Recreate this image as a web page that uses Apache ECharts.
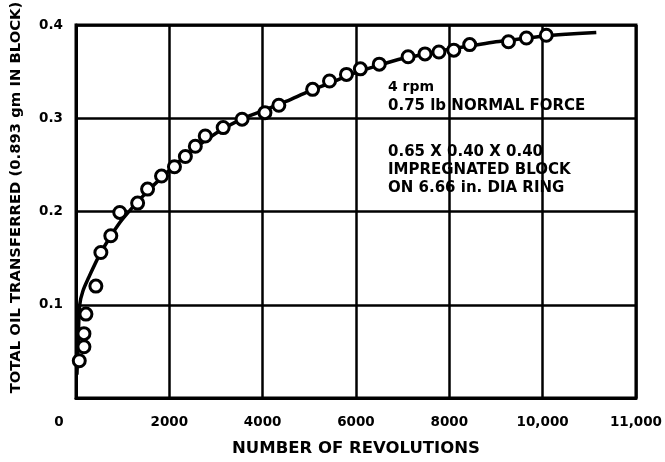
<!DOCTYPE html>
<html>
<head>
<meta charset="utf-8">
<script src="https://cdn.jsdelivr.net/npm/echarts@6/dist/echarts.min.js"></script>
<style>
html,body{margin:0;padding:0;background:#fff;}
#chart{width:665px;height:462px;}
</style>
</head>
<body>
<div id="chart"></div>
<script>
// Measured circles (revolutions, oil transferred)
var pointRevolutions = [70, 170, 170, 213, 426, 533, 746, 938, 1321, 1534, 1833, 2110, 2344, 2557, 2770, 3154, 3559, 4049, 4347, 5071, 5433, 5796, 6094, 6499, 7117, 7479, 7777, 8096, 8437, 9268, 9652, 10078];
var pointOil = [0.040, 0.055, 0.069, 0.090, 0.120, 0.156, 0.174, 0.199, 0.209, 0.224, 0.238, 0.248, 0.259, 0.270, 0.281, 0.290, 0.299, 0.306, 0.314, 0.331, 0.340, 0.347, 0.353, 0.358, 0.366, 0.369, 0.371, 0.373, 0.379, 0.382, 0.386, 0.389];
// Fitted curve
var curveRevolutions = [20, 50, 80, 150, 280, 500, 750, 1000, 1500, 2000, 2500, 3000, 3500, 4000, 4500, 5000, 5500, 6000, 6500, 7000, 7500, 8000, 8500, 9000, 9500, 10000, 10500, 11150];
var curveOil = [0.025, 0.065, 0.100, 0.115, 0.130, 0.153, 0.174, 0.192, 0.220, 0.244, 0.266, 0.284, 0.298, 0.308, 0.318, 0.329, 0.339, 0.349, 0.357, 0.364, 0.369, 0.374, 0.378, 0.382, 0.385, 0.388, 0.390, 0.392];
var xTickLabels = ['0', '2000', '4000', '6000', '8000', '10,000', '11,000'];
var yTickLabels = ['', '0.1', '0.2', '0.3', '0.4'];
var noteLines = ['4 rpm', '0.75 lb NORMAL FORCE', '0.65 X 0.40 X 0.40', 'IMPREGNATED BLOCK', 'ON 6.66 in. DIA RING'];
var xTitle = 'NUMBER OF REVOLUTIONS';
var yTitle = 'TOTAL OIL TRANSFERRED (0.893 gm IN BLOCK)';

var FONT = '"DejaVu Sans", Arial, sans-serif';
var chart = echarts.init(document.getElementById('chart'), null, {renderer: 'canvas'});

function zip(a, b) { return a.map(function (v, i) { return [v, b[i]]; }); }

var noteY = [87, 106, 152, 170, 188];
var graphics = noteLines.map(function (t, i) {
  return {
    type: 'text', x: 388, y: noteY[i], silent: true,
    style: {text: t, fill: '#000', fontFamily: FONT, fontWeight: 'bold', fontSize: i === 0 ? 14 : 15, verticalAlign: 'middle', align: 'left'}
  };
});

chart.setOption({
  animation: false,
  backgroundColor: '#fff',
  grid: {left: 76, right: 25, top: 25, bottom: 54, show: true, borderColor: '#000', borderWidth: 3, backgroundColor: 'transparent'},
  xAxis: {
    type: 'value', min: 0, max: 12000, interval: 2000,
    name: xTitle, nameLocation: 'middle', nameGap: 42,
    nameTextStyle: {fontFamily: FONT, fontWeight: 'bold', fontSize: 16.5, color: '#000'},
    axisLine: {lineStyle: {color: '#000', width: 3}},
    axisTick: {show: false},
    splitLine: {show: true, lineStyle: {color: '#000', width: 2.5}},
    axisLabel: {
      color: '#000', fontFamily: FONT, fontWeight: 'bold', fontSize: 13.5, margin: 17,
      formatter: function (v) { var i = Math.round(v / 2000); return i === 0 ? '{z|' + xTickLabels[0] + '}' : xTickLabels[i]; },
      rich: {z: {fontFamily: FONT, fontWeight: 'bold', fontSize: 13.5, color: '#000', padding: [0, 34, 0, 0]}}
    }
  },
  yAxis: {
    type: 'value', min: 0, max: 0.4, interval: 0.1,
    name: yTitle, nameLocation: 'middle', nameGap: 52, nameRotate: 90,
    nameTextStyle: {fontFamily: FONT, fontWeight: 'bold', fontSize: 14.8, color: '#000', padding: [0, 0, 0, 28]},
    axisLine: {lineStyle: {color: '#000', width: 3}},
    axisTick: {show: false},
    splitLine: {show: true, lineStyle: {color: '#000', width: 2.5}},
    axisLabel: {
      color: '#000', fontFamily: FONT, fontWeight: 'bold', fontSize: 13.5, margin: 13,
      formatter: function (v) { return yTickLabels[Math.round(v * 10)]; }
    }
  },
  graphic: graphics,
  series: [
    {
      type: 'line', data: zip(curveRevolutions, curveOil), smooth: 0.35, showSymbol: false,
      lineStyle: {color: '#000', width: 3.5}, z: 2
    },
    {
      type: 'scatter', data: zip(pointRevolutions, pointOil), symbol: 'circle', symbolSize: 12,
      itemStyle: {color: '#fff', borderColor: '#000', borderWidth: 3, opacity: 1}, z: 3
    }
  ]
});
</script>
</body>
</html>
